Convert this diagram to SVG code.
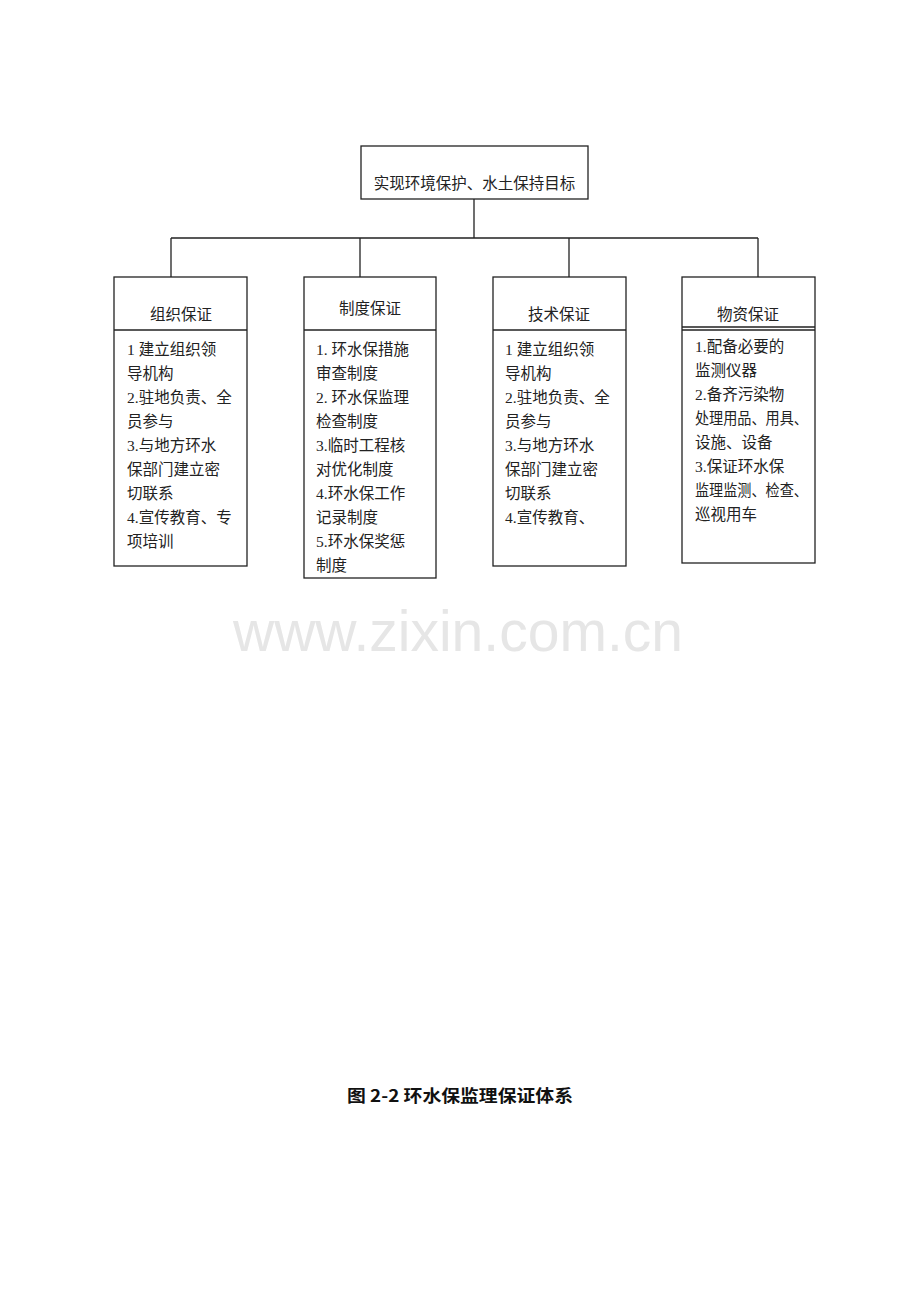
<svg xmlns="http://www.w3.org/2000/svg" width="920" height="1302" viewBox="0 0 920 1302">
<style>
.box{fill:#fff;stroke:#222;stroke-width:1.3}
.ln{stroke:#222;stroke-width:1.3;fill:none}
.t{font-family:"Liberation Serif","Noto Sans CJK SC",serif;font-size:15.5px;fill:#222}
.h{text-anchor:middle}
.wm{font-family:"Liberation Sans",Arial,sans-serif;font-size:57px;fill:#e6e6e6}
.cap{font-family:"Noto Sans CJK SC",sans-serif;font-size:17px;font-weight:bold;fill:#111}
</style>
<rect width="920" height="1302" fill="#fff"/>
<text class="wm" x="233" y="651" textLength="450" lengthAdjust="spacingAndGlyphs">www.zixin.com.cn</text>
<g id="connectors">
<path class="ln" d="M474 199V238M171 238H758M171 238V277M360 238V277M569 238V277M758 238V277"/>
</g>
<g id="root">
<rect class="box" x="361" y="146" width="227" height="53"/>
<text class="t h" x="474.5" y="189">实现环境保护、水土保持目标</text>
</g>
<g id="org">
<rect class="box" x="114" y="277" width="133" height="289"/>
<path class="ln" d="M114 330H247"/>
<text class="t h" x="181" y="320">组织保证</text>
<text class="t" x="127"><tspan x="127" y="355">1 建立组织领</tspan><tspan x="127" y="379">导机构</tspan><tspan x="127" y="403">2.驻地负责、全</tspan><tspan x="127" y="427">员参与</tspan><tspan x="127" y="451">3.与地方环水</tspan><tspan x="127" y="475">保部门建立密</tspan><tspan x="127" y="499">切联系</tspan><tspan x="127" y="523">4.宣传教育、专</tspan><tspan x="127" y="547">项培训</tspan></text>
</g>
<g id="sys">
<rect class="box" x="304" y="277" width="132" height="301"/>
<path class="ln" d="M304 330H436"/>
<text class="t h" x="370" y="314">制度保证</text>
<text class="t" x="316"><tspan x="316" y="355">1. 环水保措施</tspan><tspan x="316" y="379">审查制度</tspan><tspan x="316" y="403">2. 环水保监理</tspan><tspan x="316" y="427">检查制度</tspan><tspan x="316" y="451">3.临时工程核</tspan><tspan x="316" y="475">对优化制度</tspan><tspan x="316" y="499">4.环水保工作</tspan><tspan x="316" y="523">记录制度</tspan><tspan x="316" y="547">5.环水保奖惩</tspan><tspan x="316" y="571">制度</tspan></text>
</g>
<g id="tech">
<rect class="box" x="493" y="277" width="133" height="289"/>
<path class="ln" d="M493 330H626"/>
<text class="t h" x="559" y="320">技术保证</text>
<text class="t" x="505"><tspan x="505" y="355">1 建立组织领</tspan><tspan x="505" y="379">导机构</tspan><tspan x="505" y="403">2.驻地负责、全</tspan><tspan x="505" y="427">员参与</tspan><tspan x="505" y="451">3.与地方环水</tspan><tspan x="505" y="475">保部门建立密</tspan><tspan x="505" y="499">切联系</tspan><tspan x="505" y="523">4.宣传教育、</tspan></text>
</g>
<g id="mat">
<rect class="box" x="682" y="277" width="133" height="286"/>
<path class="ln" d="M682 327H815M682 330H815"/>
<text class="t h" x="748" y="320">物资保证</text>
<text class="t" x="695" y="352">1.配备必要的</text>
<text class="t" x="695" y="376">监测仪器</text>
<text class="t" x="695" y="400">2.备齐污染物</text>
<text class="t" x="695" y="424" textLength="113" lengthAdjust="spacingAndGlyphs">处理用品、用具、</text>
<text class="t" x="695" y="448">设施、设备</text>
<text class="t" x="695" y="472">3.保证环水保</text>
<text class="t" x="695" y="496" textLength="113" lengthAdjust="spacingAndGlyphs">监理监测、检查、</text>
<text class="t" x="695" y="520">巡视用车</text>
</g>
<text class="cap" x="347" y="1102" textLength="226" lengthAdjust="spacingAndGlyphs">图 2-2 环水保监理保证体系</text>
</svg>
